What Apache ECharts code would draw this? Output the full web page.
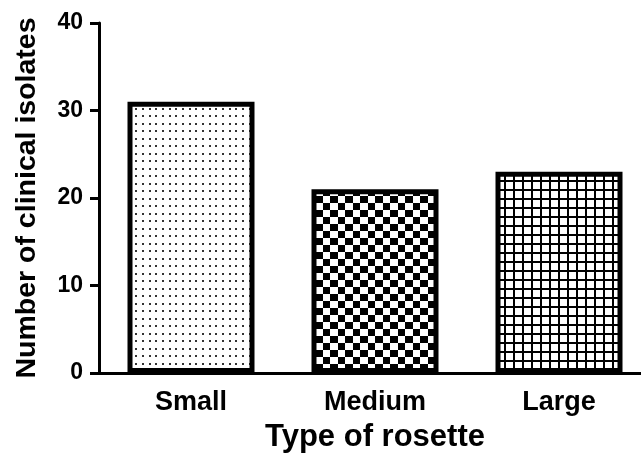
<!DOCTYPE html>
<html>
<head>
<meta charset="utf-8">
<script src="https://cdn.jsdelivr.net/npm/echarts@6/dist/echarts.min.js"></script>
<style>
  html, body { margin: 0; padding: 0; background: #fff; }
  #chart { width: 641px; height: 457px; }
</style>
</head>
<body>
<div id="chart"></div>
<script>
let categories = ['Small', 'Medium', 'Large'];
let isolates = [31, 21, 23];
let yTicks = [0, 10, 20, 30, 40];

// fill patterns drawn on small canvases
function dots() {
  let c = document.createElement('canvas');
  c.width = 20; c.height = 15;
  let g = c.getContext('2d');
  g.fillStyle = '#fff'; g.fillRect(0, 0, 20, 15);
  g.fillStyle = '#333';
  [2, 9, 15].forEach(function (x) {
    g.fillRect(x, 3, 2, 2);
    g.fillRect(x, 10, 2, 2);
  });
  return c;
}
function checker() {
  let c = document.createElement('canvas');
  c.width = 15; c.height = 14;
  let g = c.getContext('2d');
  g.fillStyle = '#fff'; g.fillRect(0, 0, 15, 14);
  g.fillStyle = '#000';
  g.fillRect(0, 0, 8, 7);
  g.fillRect(8, 7, 7, 7);
  return c;
}
function grid() {
  let c = document.createElement('canvas');
  c.width = 9; c.height = 9;
  let g = c.getContext('2d');
  g.fillStyle = '#fff'; g.fillRect(0, 0, 9, 9);
  g.fillStyle = '#000';
  g.fillRect(0, 0, 9, 2);
  g.fillRect(0, 0, 2, 9);
  return c;
}
let fills = [dots(), checker(), grid()];

let myChart = echarts.init(document.getElementById('chart'));
let font = '"Liberation Sans", Arial, sans-serif';
let option = {
  animation: false,
  grid: { left: 99, width: 552, top: 23, bottom: 84, outerBoundsMode: 'none', containLabel: false },
  xAxis: {
    type: 'category',
    data: categories,
    name: 'Type of rosette',
    nameLocation: 'middle',
    nameGap: 49,
    nameTextStyle: { fontFamily: font, fontWeight: 'bold', fontSize: 31, color: '#000' },
    axisLine: { lineStyle: { color: '#000', width: 3 } },
    axisTick: { alignWithLabel: true, length: 8, lineStyle: { color: '#000', width: 3 } },
    axisLabel: { margin: 16, fontFamily: font, fontWeight: 'bold', fontSize: 27, color: '#000' }
  },
  yAxis: {
    type: 'value',
    min: 0,
    max: 40,
    interval: 10,
    name: 'Number of clinical isolates',
    nameLocation: 'middle',
    nameRotate: 90,
    nameGap: 57,
    nameTextStyle: { fontFamily: font, fontWeight: 'bold', fontSize: 28.5, color: '#000' },
    splitLine: { show: false },
    axisLine: { show: true, lineStyle: { color: '#000', width: 3 } },
    axisTick: { show: true, length: 9, lineStyle: { color: '#000', width: 3 } },
    axisLabel: {
      margin: 16, fontFamily: font, fontWeight: 'bold', fontSize: 23, color: '#000',
      formatter: function (v) { return yTicks.indexOf(v) >= 0 ? String(v) : ''; }
    }
  },
  series: [
    {
      type: 'bar',
      barWidth: 127,
      data: isolates.map(function (v, i) {
        return {
          value: v,
          itemStyle: {
            color: { image: fills[i], repeat: 'repeat' },
            borderColor: '#000',
            borderWidth: 5
          }
        };
      })
    }
  ]
};
myChart.setOption(option);
</script>
</body>
</html>
